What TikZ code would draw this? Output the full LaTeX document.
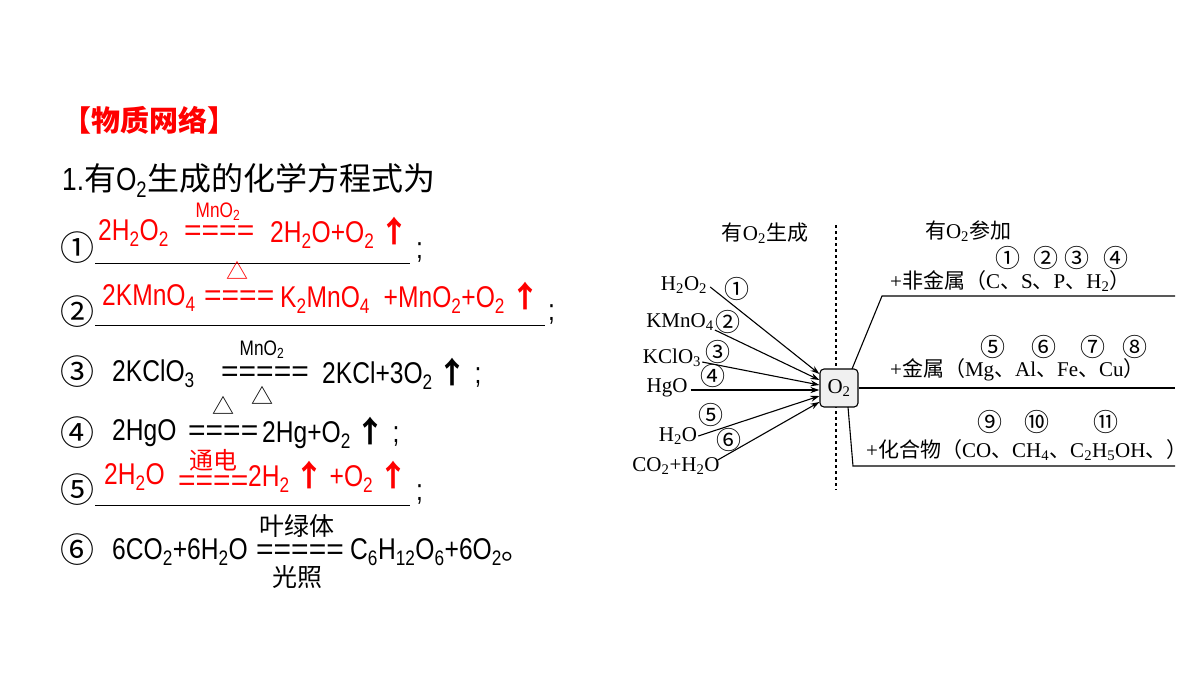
\documentclass[tikz,border=0pt]{standalone}
\usepackage{fontspec}
\usetikzlibrary{arrows.meta}
\setmainfont{Liberation Sans}[FakeStretch=0.82]
\newfontfamily\eqf{Liberation Sans}
\newfontfamily\cjk{Noto Sans CJK SC}
\newfontfamily\ser{Liberation Serif}
\newcommand{\sbs}[1]{\textsubscript{#1}}
\newcommand{\up}{{\cjk\bfseries ↑}}
\begin{document}
\begin{tikzpicture}[x=1pt,y=-1pt,
 eq/.style={anchor=west,inner sep=0,font=\fontsize{30}{31}\selectfont},
 eqs/.style={anchor=west,inner sep=0,font=\eqf\fontsize{30}{31}\selectfont},
 cn/.style={anchor=west,inner sep=0,font=\cjk\fontsize{34}{35}\selectfont},
 sm/.style={inner sep=0,font=\fontsize{21}{22}\selectfont},
 rd/.style={text=red},
 dg/.style={inner sep=0,font=\ser\fontsize{21}{23}\selectfont},
 num/.style={inner sep=0,font=\cjk\fontsize{25}{26}\selectfont},
 uline/.style={line width=0.8pt},
 ln/.style={line width=1.1pt},
 arr/.style={-{Stealth[length=9pt,width=6pt]},line width=1.1pt}]
\useasboundingbox (0,0) rectangle (1200,675);
% title
\node[eq,rd,font=\cjk\bfseries\fontsize{29}{30}\selectfont] (title) at (62,120) {【物质网络】};
\node[eq,font=\fontsize{32}{33}\selectfont] (head) at (62,180) {1.{\cjk 有}O\sbs{2}{\cjk 生成的化学方程式为}};
% row 1
\node[cn] (c1) at (60,248) {①};
\draw[uline] (95,263) coordinate (u1a) -- (410,263) coordinate (u1b);
\node[eq] (s1) at (416,252) {;};
\node[eq,rd] (r1a) at (98,233) {2H\sbs{2}O\sbs{2}};
\node[sm,rd] (r1m) at (218,212) {MnO\sbs{2}};
\node[eqs,rd] (r1e) at (184,233) {====};
\node[eq,rd] (r1b) at (270,233) {2H\sbs{2}O+O\sbs{2}\,\up};
% row 2
\node[cn] (c2) at (60,312) {②};
\draw[uline] (95,325) coordinate (u2a) -- (545,325) coordinate (u2b);
\node[eq] (s2) at (548,314) {;};
\node[sm,rd,font=\cjk\fontsize{22}{22}\selectfont] (r2t) at (237,270) {△};
\node[eq,rd] (r2a) at (102,298) {2KMnO\sbs{4}};
\node[eqs,rd] (r2e) at (204,298) {====};
\node[eq,rd] (r2b) at (280,298) {K\sbs{2}MnO\sbs{4}\ \ +MnO\sbs{2}+O\sbs{2}\,\up};
% row 3
\node[cn] (c3) at (60,372) {③};
\node[eq] (k3a) at (112,374) {2KClO\sbs{3}};
\node[sm] (k3m) at (262,350) {MnO\sbs{2}};
\node[eqs] (k3e) at (221,374) {=====};
\node[eq] (k3b) at (322,374) {2KCl+3O\sbs{2}\,\up\ ;};
\node[sm,font=\cjk\fontsize{22}{22}\selectfont] (t3a) at (223,405) {△};
\node[sm,font=\cjk\fontsize{22}{22}\selectfont] (t3b) at (262,395) {△};
% row 4
\node[cn] (c4) at (60,433) {④};
\node[eq] (k4a) at (112,433) {2HgO};
\node[eqs] (k4e) at (188,433) {====};
\node[eq] (k4b) at (262,433) {2Hg+O\sbs{2}\,\up\ ;};
% row 5
\node[cn] (c5) at (60,490) {⑤};
\draw[uline] (95,505) coordinate (u5a) -- (410,505) coordinate (u5b);
\node[eq] (s5) at (416,494) {;};
\node[eq,rd] (r5a) at (104,477) {2H\sbs{2}O};
\node[sm,rd,font=\cjk\fontsize{24}{24}\selectfont] (r5m) at (213,460) {通电};
\node[eqs,rd] (r5e) at (178,483) {====};
\node[eq,rd] (r5b) at (248,477) {2H\sbs{2}\,\up\,+O\sbs{2}\,\up};
% row 6
\node[cn] (c6) at (60,550) {⑥};
\node[eq] (k6a) at (112,552) {6CO\sbs{2}+6H\sbs{2}O};
\node[sm,font=\cjk\fontsize{25}{26}\selectfont] (k6t) at (297,526) {叶绿体};
\node[eqs] (k6e) at (256,552) {=====};
\node[sm,font=\cjk\fontsize{25}{26}\selectfont] (k6u) at (297,577) {光照};
\node[eq] (k6b) at (350,552) {C\sbs{6}H\sbs{12}O\sbs{6}+6O\sbs{2}{\cjk 。}};
% diagram
\node[dg] (hl) at (765,233) {{\cjk 有}O\sbs{2}{\cjk 生成}};
\node[dg] (hr) at (968,231) {{\cjk 有}O\sbs{2}{\cjk 参加}};
\draw[dashed,ln] (836,225) coordinate (d1) -- (836,490) coordinate (d2);
\node[draw,rounded corners=4pt,fill=gray!12,minimum size=38pt,inner sep=0,ln,font=\ser\fontsize{21}{23}\selectfont] (o2) at (839,388) {O\sbs{2}};
\node[dg] (a1) at (684,285) {H\sbs{2}O\sbs{2}};
\node[num] (n1) at (737,289) {①};
\node[dg] (a2) at (680,322) {KMnO\sbs{4}};
\node[num] (n2) at (728,322) {②};
\node[dg] (a3) at (672,358) {KClO\sbs{3}};
\node[num] (n3) at (718,352) {③};
\node[dg] (a4) at (667,388) {HgO};
\node[num] (n4) at (713,376) {④};
\node[dg] (a5) at (678,436) {H\sbs{2}O};
\node[num] (n5) at (711,415) {⑤};
\node[dg] (a6) at (676,466) {CO\sbs{2}+H\sbs{2}O};
\node[num] (n6) at (729,440) {⑥};
\draw[arr] (a1.east)++(3,2) -- (o2.west |- 0,374);
\draw[arr] (a2.east)++(1,8) -- (o2.west |- 0,380);
\draw[arr] (a3.east)++(1,4) -- (o2.west |- 0,385);
\draw[arr] (a4.east)++(3,2) -- (o2.west |- 0,390);
\draw[arr] (a5.east)++(1,0) -- (o2.west |- 0,396);
\draw[arr] (a6.east)++(-2,-6) -- (o2.west |- 0,402);
\coordinate (e1) at (882,296); \coordinate (f1) at (1175,296);
\coordinate (e3) at (853,466); \coordinate (f3) at (1175,466);
\draw[ln] (852,369) -- (e1) -- (f1);
\draw[ln] (o2.east) -- (1175,388) coordinate (f2);
\draw[ln] (848,407) -- (e3) -- (f3);
\node[dg,anchor=west] (l1) at (890,281) {+{\cjk 非金属（}C{\cjk 、}S{\cjk 、}P{\cjk 、}H\sbs{2}{\cjk ）}};
\node[num] (m1) at (1008,258) {①};
\node[num] (m2) at (1046,258) {②};
\node[num] (m3) at (1077,258) {③};
\node[num] (m4) at (1116,258) {④};
\node[dg,anchor=west] (l2) at (890,370) {+{\cjk 金属（}Mg{\cjk 、}Al{\cjk 、}Fe{\cjk 、}Cu{\cjk ）}};
\node[num] (m5) at (993,347) {⑤};
\node[num] (m6) at (1044,347) {⑥};
\node[num] (m7) at (1093,347) {⑦};
\node[num] (m8) at (1135,347) {⑧};
\node[dg,anchor=west] (l3) at (866,450) {+{\cjk 化合物（}CO{\cjk 、}CH\sbs{4}{\cjk 、}C\sbs{2}H\sbs{5}OH{\cjk 、）}};
\node[num] (m9) at (990,422) {⑨};
\node[num] (m10) at (1037,422) {⑩};
\node[num] (m11) at (1106,422) {⑪};
\end{tikzpicture}
\end{document}
